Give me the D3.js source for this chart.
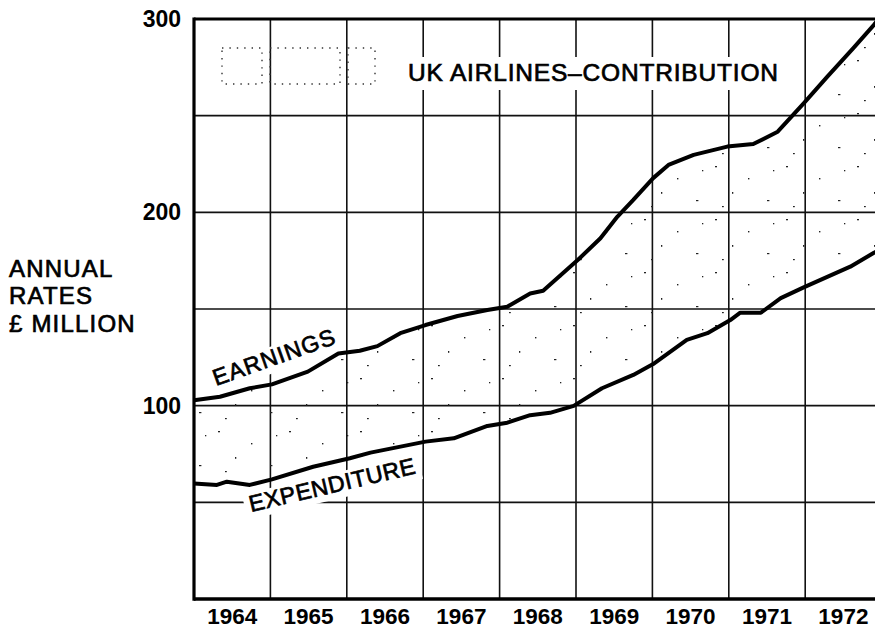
<!DOCTYPE html>
<html>
<head>
<meta charset="utf-8">
<script src="https://cdn.jsdelivr.net/npm/d3@7"></script>
<style>
  html, body { margin: 0; padding: 0; background: #fff; overflow: hidden; }
  svg { display: block; font-family: "Liberation Sans", Arial, Helvetica, sans-serif; }
</style>
</head>
<body>
<div id="chart"></div>
<script>
// values (year, £ million annual rate)
var earnYears = [1964.0, 1964.34, 1964.73, 1965.02, 1965.49, 1965.89, 1966.17, 1966.4, 1966.7, 1967.03,
    1967.45, 1967.84, 1968.1, 1968.4, 1968.57, 1969.03, 1969.32, 1969.54, 1969.75, 1970.01,
    1970.21, 1970.54, 1970.98, 1971.32, 1971.64, 1971.98, 1972.29, 1972.63, 1972.9, 1973.0];
var earnValues = [102.8, 104.6, 109, 111, 117.6, 127, 128.4, 130.8, 137.5, 141.7,
    146.4, 149.5, 151.2, 158, 159.4, 175.6, 186.6, 197.7, 206.4, 217.7,
    224.5, 229.7, 234, 235.3, 241.7, 256.4, 270.2, 284.9, 297, 302];

var expYears = [1964.0, 1964.3, 1964.43, 1964.73, 1965.02, 1965.56, 1966.04, 1966.31, 1967.03, 1967.4,
    1967.84, 1968.1, 1968.4, 1968.66, 1968.97, 1969.34, 1969.75, 1970.01, 1970.45, 1970.72,
    1971.02, 1971.15, 1971.42, 1971.68, 1971.98, 1972.59, 1972.9, 1973.0];
var expValues = [59.8, 59, 60.7, 59, 61.9, 68.4, 72.8, 75.7, 81.4, 83.1,
    89.5, 91.2, 95.1, 96.3, 99.9, 109, 115.9, 121.5, 134, 137.5,
    144.3, 148.1, 148.1, 155.6, 161.2, 171.9, 179.1, 181];

var yearLabels = [1964, 1965, 1966, 1967, 1968, 1969, 1970, 1971, 1972];
var gridValues = [50, 100, 150, 200, 250];
var tickValues = [100, 200, 300];
var yLabelLines = ["ANNUAL", "RATES", "£ MILLION"];
var title = "UK AIRLINES–CONTRIBUTION";

var width = 875, height = 630;
var margin = {top: 19, left: 194, bottom: 599, right: 881.6};

var earnings = earnYears.map((t, i) => ({t: t, v: earnValues[i]}));
var expenditure = expYears.map((t, i) => ({t: t, v: expValues[i]}));

var x = d3.scaleLinear().domain([1964, 1973]).range([margin.left, margin.right]);
var y = d3.scaleLinear().domain([0, 300]).range([margin.bottom, margin.top]);

var svg = d3.select("#chart")
    .append("svg")
        .attr("width", width)
        .attr("height", height);

// sparse specks for the contribution band (texture only)
var defs = svg.append("defs");
var pat = defs.append("pattern")
    .attr("id", "stipple")
    .attr("patternUnits", "userSpaceOnUse")
    .attr("width", 71)
    .attr("height", 53);
[[5, 7, 2, 1.3], [38, 19, 1.4, 1.4], [57, 41, 2.4, 1.2], [22, 33, 1.3, 1.8], [63, 11, 1.3, 1.3], [12, 47, 1.8, 1.2]].forEach(p => {
    pat.append("rect")
        .attr("x", p[0]).attr("y", p[1])
        .attr("width", p[2]).attr("height", p[3])
        .attr("fill", "#222");
});

// grid
svg.append("g")
    .selectAll("line")
    .data(gridValues)
    .enter()
    .append("line")
        .attr("x1", margin.left)
        .attr("x2", margin.right)
        .attr("y1", d => y(d))
        .attr("y2", d => y(d))
        .attr("stroke", "#111")
        .attr("stroke-width", 1.6);

svg.append("g")
    .selectAll("line")
    .data(d3.range(1965, 1973))
    .enter()
    .append("line")
        .attr("x1", d => x(d))
        .attr("x2", d => x(d))
        .attr("y1", margin.top)
        .attr("y2", margin.bottom)
        .attr("stroke", "#111")
        .attr("stroke-width", 1.6);

var line = d3.line()
    .x(d => x(d.t))
    .y(d => y(d.v));

// band between the two curves
svg.append("path")
    .attr("d", line(earnings) + "L" + line(expenditure.slice().reverse()).slice(1) + "Z")
    .attr("fill", "url(#stipple)")
    .attr("stroke", "none");

// dotted logo remnant next to the title
svg.append("g")
    .selectAll("rect")
    .data([[222, 262], [270, 340], [348, 375]])
    .enter()
    .append("rect")
        .attr("x", d => d[0])
        .attr("y", 48)
        .attr("width", d => d[1] - d[0])
        .attr("height", 36)
        .attr("fill", "none")
        .attr("stroke", "#333")
        .attr("stroke-width", 1.4)
        .attr("stroke-dasharray", "1.4 6");

// title with white box behind it
var titleG = svg.append("g");
var titleText = titleG.append("text")
    .attr("x", 408)
    .attr("y", 81)
    .attr("font-size", 24.5)
    .attr("textLength", 370)
    .attr("lengthAdjust", "spacing")
    .attr("fill", "#000")
    .attr("stroke", "#000")
    .attr("stroke-width", 0.7)
    .text(title);
var tb = titleText.node().getBBox();
titleG.insert("rect", "text")
    .attr("x", tb.x - 6)
    .attr("y", tb.y - 2)
    .attr("width", tb.width + 12)
    .attr("height", tb.height + 6)
    .attr("fill", "#fff");

// curve labels, rotated along the lines
function curveLabel(txt, x0, y0, angle, len) {
    var g = svg.append("g")
        .attr("transform", "translate(" + x0 + "," + y0 + ") rotate(" + angle + ")");
    var t = g.append("text")
        .attr("x", 0)
        .attr("y", 0)
        .attr("font-size", 23)
        .attr("textLength", len)
        .attr("lengthAdjust", "spacing")
        .attr("fill", "#000")
        .attr("stroke", "#000")
        .attr("stroke-width", 0.7)
        .text(txt);
    var b = t.node().getBBox();
    g.insert("rect", "text")
        .attr("x", b.x - 5)
        .attr("y", b.y + 2)
        .attr("width", b.width + 10)
        .attr("height", b.height)
        .attr("fill", "#fff");
    return g;
}

var labEarn = curveLabel("EARNINGS", 216, 386, -19.5, 128);
var labExp = curveLabel("EXPENDITURE", 251, 512, -13.2, 170);

// frame
svg.append("line")
    .attr("x1", margin.left).attr("x2", margin.right)
    .attr("y1", margin.top).attr("y2", margin.top)
    .attr("stroke", "#000").attr("stroke-width", 3);
svg.append("line")
    .attr("x1", margin.left).attr("x2", margin.right)
    .attr("y1", margin.bottom).attr("y2", margin.bottom)
    .attr("stroke", "#000").attr("stroke-width", 3.5);
svg.append("line")
    .attr("x1", margin.left).attr("x2", margin.left)
    .attr("y1", margin.top - 1.5).attr("y2", margin.bottom + 1.7)
    .attr("stroke", "#000").attr("stroke-width", 3.2);

// the two curves
svg.append("path")
    .datum(earnings)
    .attr("d", line)
    .attr("fill", "none")
    .attr("stroke", "#000")
    .attr("stroke-width", 4)
    .attr("stroke-linejoin", "round");

svg.append("path")
    .datum(expenditure)
    .attr("d", line)
    .attr("fill", "none")
    .attr("stroke", "#000")
    .attr("stroke-width", 4)
    .attr("stroke-linejoin", "round");

// keep label text above curves
labEarn.raise();
labExp.raise();

// y tick labels
svg.append("g")
    .selectAll("text")
    .data(tickValues)
    .enter()
    .append("text")
        .attr("x", 181)
        .attr("y", d => y(d) + 8)
        .attr("text-anchor", "end")
        .attr("font-size", 23)
        .attr("font-weight", "bold")
        .attr("fill", "#000")
        .text(d => d);

// year labels, centred in each year's column
svg.append("g")
    .selectAll("text")
    .data(yearLabels)
    .enter()
    .append("text")
        .attr("x", d => x(d + 0.5))
        .attr("y", 624)
        .attr("text-anchor", "middle")
        .attr("font-size", 22.5)
        .attr("font-weight", "bold")
        .attr("fill", "#000")
        .text(d => d);

// y axis title
svg.append("g")
    .selectAll("text")
    .data(yLabelLines)
    .enter()
    .append("text")
        .attr("x", 9)
        .attr("y", (d, i) => 276.5 + i * 27.5)
        .attr("font-size", 24)
        .attr("letter-spacing", 1.2)
        .attr("fill", "#000")
        .attr("stroke", "#000")
        .attr("stroke-width", 0.7)
        .text(d => d);
</script>
</body>
</html>
